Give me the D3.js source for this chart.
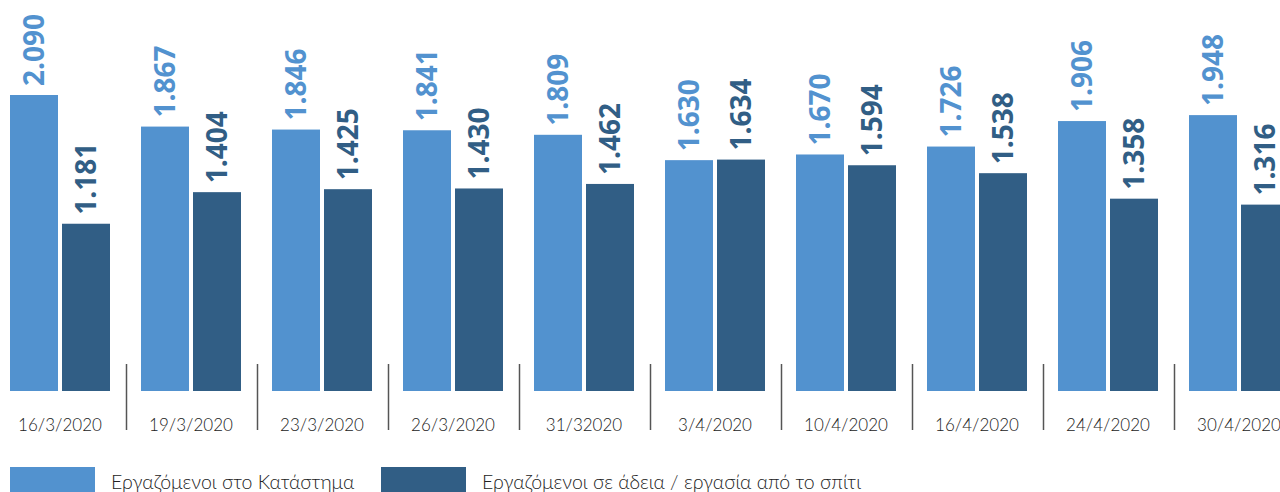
<!DOCTYPE html>
<html>
<head>
<meta charset="utf-8">
<script src="https://cdn.jsdelivr.net/npm/d3@7"></script>
<style>
  html, body { margin: 0; padding: 0; background: #fff; }
  svg { display: block; }
</style>
</head>
<body>
<svg id="chart" width="1280" height="492"></svg>
<script>
const dates = ["16/3/2020", "19/3/2020", "23/3/2020", "26/3/2020", "31/32020", "3/4/2020", "10/4/2020", "16/4/2020", "24/4/2020", "30/4/2020"];
const inStore = [2090, 1867, 1846, 1841, 1809, 1630, 1670, 1726, 1906, 1948];
const leaveOrHome = [1181, 1404, 1425, 1430, 1462, 1634, 1594, 1538, 1358, 1316];
const seriesNames = ["Εργαζόμενοι στο Κατάστημα", "Εργαζόμενοι σε άδεια / εργασία από το σπίτι"];
const seriesKeys = ["store", "home"];
const colors = ["#5292cf", "#315e85"];

const data = dates.map((d, i) => ({ date: d, store: inStore[i], home: leaveOrHome[i] }));

const svg = d3.select("#chart");
const baseY = 391;

const x0 = d3.scaleBand().domain(dates).range([10, 1289]).paddingInner(31 / 131).paddingOuter(0);
const x1 = d3.scaleBand().domain(seriesKeys).range([0, x0.bandwidth()]).paddingInner(4 / 52).paddingOuter(0);
const y = d3.scaleLinear().domain([0, 2090]).range([baseY, 95]);
const color = d3.scaleOrdinal().domain(seriesKeys).range(colors);
const fmt = v => d3.format(",")(v).replace(",", ".");

const groups = svg.append("g").selectAll("g").data(data).join("g")
  .attr("transform", d => `translate(${x0(d.date)},0)`);

groups.selectAll("rect").data(d => seriesKeys.map(k => ({ key: k, value: d[k] }))).join("rect")
  .attr("x", d => x1(d.key))
  .attr("y", d => y(d.value))
  .attr("width", x1.bandwidth())
  .attr("height", d => baseY - y(d.value))
  .attr("fill", d => color(d.key));

groups.selectAll("text.val").data(d => seriesKeys.map(k => ({ key: k, value: d[k] }))).join("text")
  .attr("class", "val")
  .attr("transform", d => `translate(${x1(d.key) + x1.bandwidth() / 2 + 10},${y(d.value) - 9}) rotate(-90)`)
  .attr("text-anchor", "start")
  .attr("font-family", "'Open Sans', sans-serif")
  .attr("font-weight", 700)
  .attr("font-size", 28)
  .attr("fill", d => color(d.key))
  .text(d => fmt(d.value));

// date labels
groups.append("text")
  .attr("x", x0.bandwidth() / 2)
  .attr("y", 431)
  .attr("text-anchor", "middle")
  .attr("font-family", "Lato, sans-serif")
  .attr("font-weight", 300)
  .attr("font-size", 17)
  .attr("fill", "#222")
  .text(d => d.date);

// separators
const gap = x0.step() - x0.bandwidth();
svg.append("g").selectAll("line").data(dates.slice(0, -1)).join("line")
  .attr("x1", d => x0(d) + x0.bandwidth() + gap / 2 + 1)
  .attr("x2", d => x0(d) + x0.bandwidth() + gap / 2 + 1)
  .attr("y1", 364)
  .attr("y2", 430)
  .attr("stroke", "#555")
  .attr("stroke-width", 1.5);

// legend
const legendX = [10, 381];
const leg = svg.append("g").selectAll("g").data(seriesKeys).join("g")
  .attr("transform", (d, i) => `translate(${legendX[i]},467)`);
leg.append("rect").attr("width", 85).attr("height", 25).attr("fill", d => color(d));
leg.append("text")
  .attr("x", 101)
  .attr("y", 22)
  .attr("font-family", "Lato, sans-serif")
  .attr("font-weight", 300)
  .attr("font-size", 19.5)
  .attr("fill", "#222")
  .text((d, i) => seriesNames[i]);
</script>
</body>
</html>
